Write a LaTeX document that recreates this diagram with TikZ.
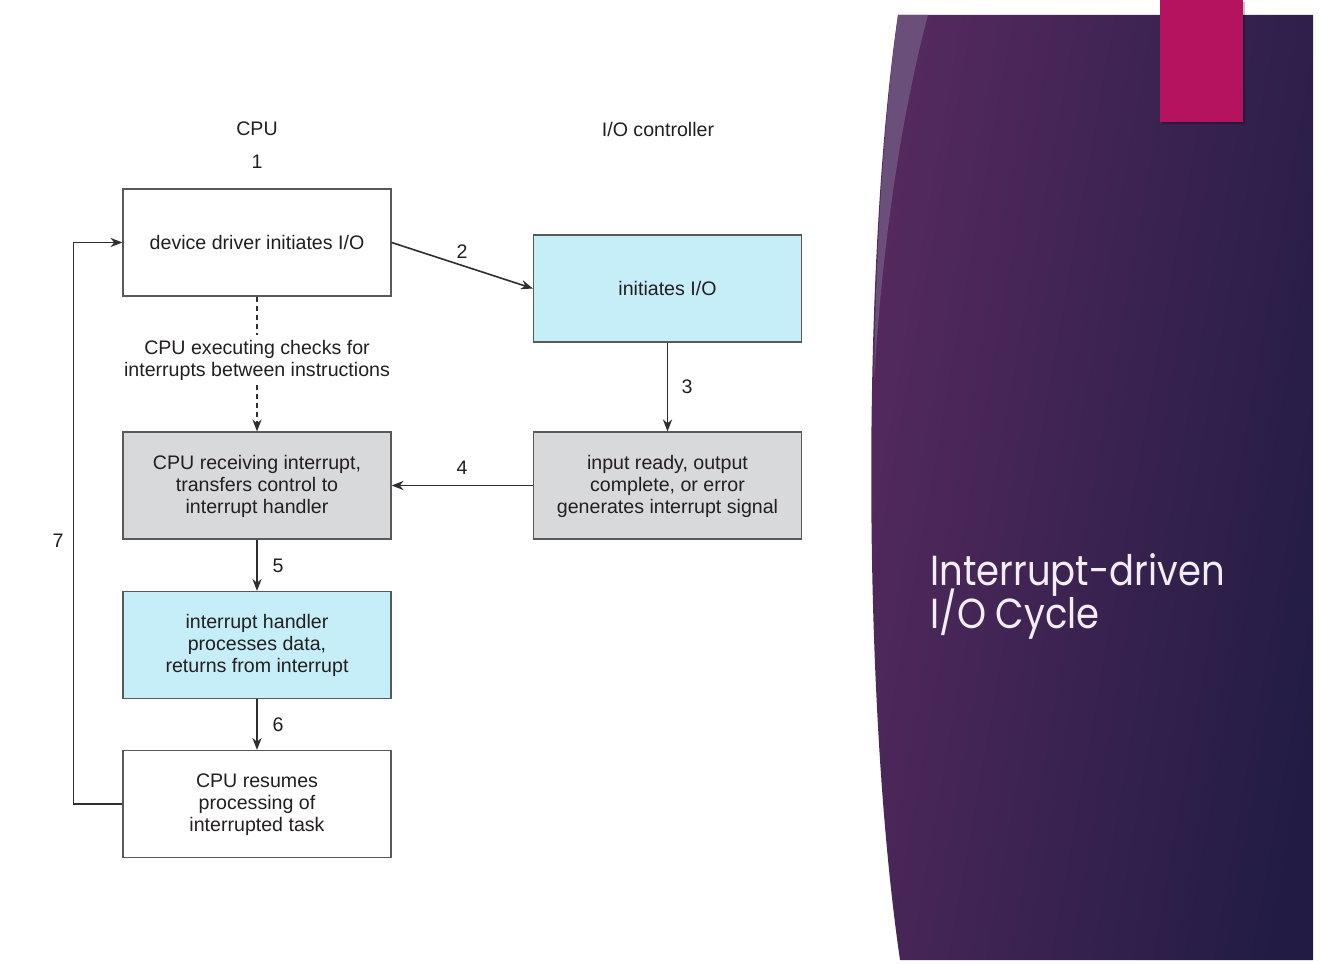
\documentclass[tikz,border=0pt]{standalone}
\usepackage{fontspec}
\setmainfont{Liberation Sans}
\newfontfamily\titlefont{Poppins}[FakeStretch=0.88]
\usetikzlibrary{arrows.meta,calc}
\definecolor{boxcyan}{HTML}{C6EEF9}
\definecolor{boxgray}{HTML}{D8D9DB}
\definecolor{bordergray}{HTML}{58595B}
\definecolor{inkdark}{HTML}{231F20}
\definecolor{arrowdark}{HTML}{2E2E30}
\definecolor{panelleft}{HTML}{562A5E}
\definecolor{panelright}{HTML}{221C45}
\definecolor{stripe}{HTML}{6E5680}
\definecolor{magentatab}{HTML}{B5135F}
\definecolor{titlewhite}{HTML}{F2EEF4}
\tikzset{
  txt/.style={font=\fontsize{9.8}{11}\selectfont, text=inkdark, align=center},
  box/.style={txt, draw=bordergray, line width=0.6pt, minimum width=134pt, minimum height=53.5pt, inner sep=2pt},
  whitebox/.style={box, fill=white},
  cyanbox/.style={box, fill=boxcyan},
  graybox/.style={box, fill=boxgray},
  arr/.style={draw=arrowdark, line width=0.8pt, -{Stealth[length=6pt,width=4.6pt]}},
  lbl/.style={txt, inner sep=1pt},
  ttl/.style={anchor=base west, text=titlewhite, inner sep=0pt, font=\titlefont\fontsize{21}{21}\selectfont}
}
\begin{document}
\begin{tikzpicture}[x=0.5pt,y=-0.5pt]
\useasboundingbox (0,0) rectangle (1326,963);
\fill[white] (0,0) rectangle (1326,963);
% right panel
\shade[left color=panelleft, right color=panelright, shading angle=80]
  (898,15) -- (1313,15) -- (1313,960) -- (900,960)
  .. controls (862,700) and (862,260) .. (898,15) -- cycle;
\fill[stripe, opacity=0.85] (898,15) -- (928,15)
  .. controls (900,120) and (882,250) .. (874,380)
  .. controls (876,240) and (884,120) .. (898,15) -- cycle;
\fill[black, opacity=0.25] (1162,2) rectangle (1245,124);
\fill[magentatab] (1160,0) rectangle (1243,122);
\node[ttl] (t1) at (930,585) {Interrupt-driven};
\node[ttl] (t2) at (930,628) {I/O Cycle};
% headings
\node[lbl] (cpu) at (257,129) {CPU};
\node[lbl] (n1) at (257,162) {1};
\node[lbl] (ioc) at (658,129) {I/O controller};
% boxes
\node[whitebox] (r1) at (257,242.5) {device driver initiates I/O};
\node[cyanbox] (io1) at (667.5,288.5) {initiates I/O};
\node[txt, inner sep=2pt] (note) at (257,360) {CPU executing checks for\\interrupts between instructions};
\node[graybox] (r4) at (257,485.5) {\strut CPU receiving interrupt,\\transfers control to\\interrupt handler};
\node[graybox] (io2) at (667.5,485.5) {\strut input ready, output\\complete, or error\\generates interrupt signal};
\node[cyanbox] (r5) at (257,645) {\strut interrupt handler\\processes data,\\returns from interrupt};
\node[whitebox] (r6) at (257,804) {\strut CPU resumes\\processing of\\interrupted task};
% connectors
\draw[arr] (r1.east) -- (io1.west);
\node[lbl] (n2) at (462,252) {2};
\draw[arr] (io1.south) -- (io2.north);
\node[lbl] (n3) at (687,387) {3};
\draw[arr] (io2.west) -- (r4.east);
\node[lbl] (n4) at (462,468) {4};
\draw[arrowdark, line width=0.8pt, dash pattern=on 2.6pt off 2pt] (r1.south) -- (note.north);
\draw[arr, dash pattern=on 2.6pt off 2pt] (note.south) -- (r4.north);
\draw[arr] (r4.south) -- (r5.north);
\node[lbl] (n5) at (278,566) {5};
\draw[arr] (r5.south) -- (r6.north);
\node[lbl] (n6) at (278,725) {6};
\draw[arr] (r6.west) -- ++(-49,0) |- (r1.west);
\node[lbl] (n7) at (58,541) {7};
\end{tikzpicture}
\end{document}
